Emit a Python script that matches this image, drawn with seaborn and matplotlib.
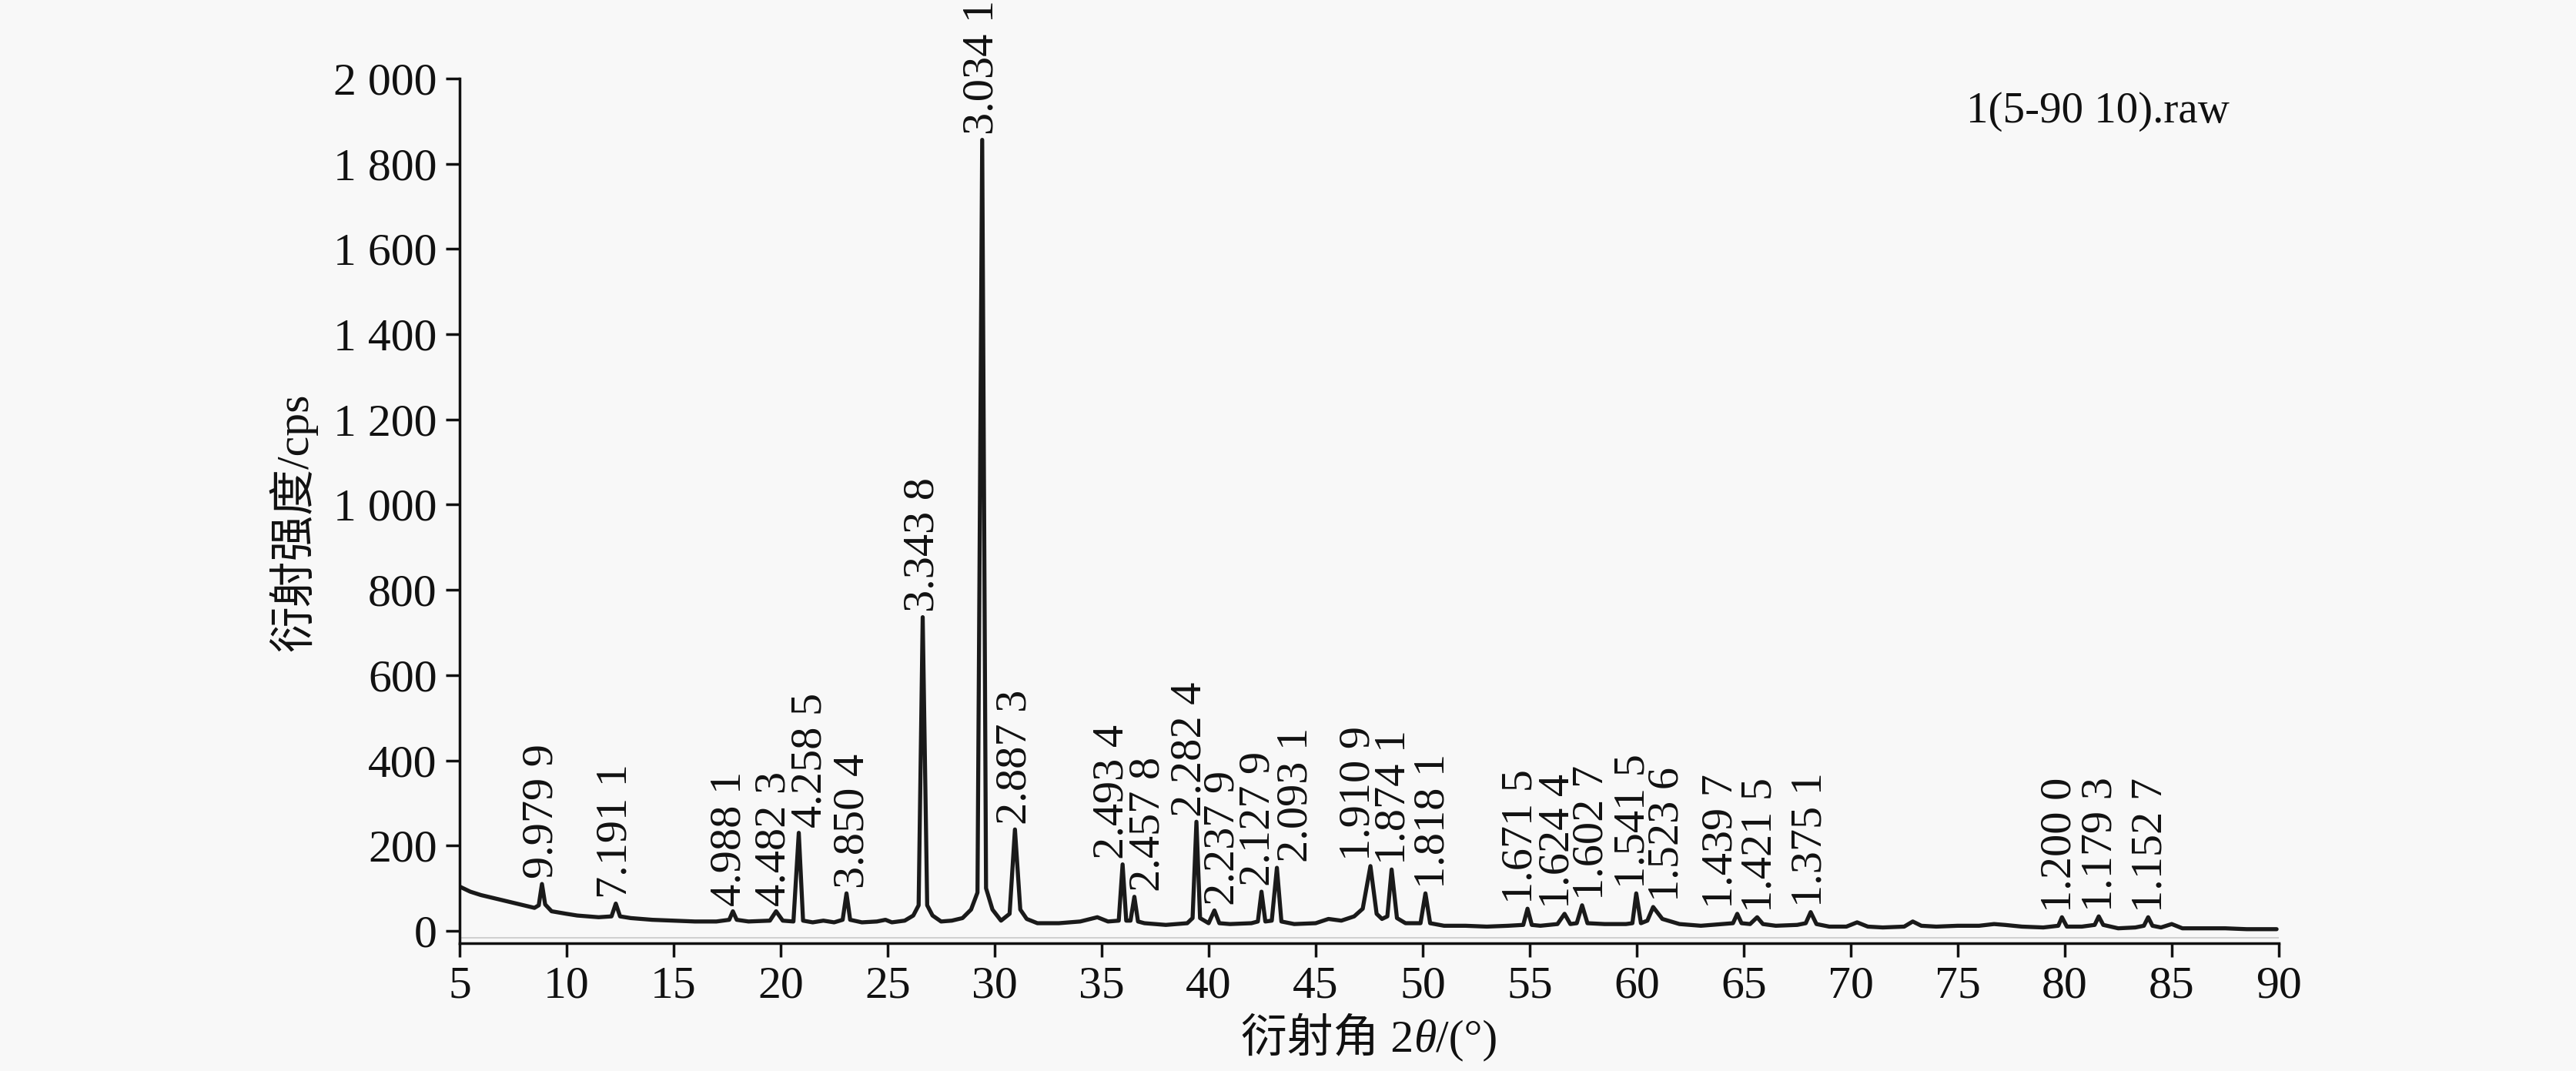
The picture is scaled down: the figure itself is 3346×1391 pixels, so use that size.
import matplotlib
matplotlib.use("Agg")
import matplotlib.pyplot as plt
import seaborn as sns
from matplotlib.offsetbox import TextArea, HPacker, AnchoredOffsetbox

# XRD pattern (2theta in degrees, intensity in cps)
two_theta = [5.0, 5.5, 6.0, 6.5, 7.0, 7.5, 8.0, 8.5, 8.7, 8.85, 9.0, 9.3, 10.0, 10.5, 11.0, 11.5,
             12.1, 12.3, 12.5, 13.0, 14.0, 15.0, 16.0, 17.0, 17.6, 17.77, 17.95, 18.5, 19.5, 19.79,
             20.1, 20.6, 20.85, 21.05, 21.5, 22.0, 22.5, 22.9, 23.08, 23.25, 23.8, 24.5, 24.9, 25.2,
             25.8, 26.2, 26.45, 26.64, 26.85, 27.1, 27.5, 28.0, 28.5, 28.9, 29.2, 29.42, 29.6, 29.9,
             30.3, 30.7, 30.95, 31.2, 31.5, 32.0, 33.0, 34.0, 34.8, 35.3, 35.8, 35.98, 36.15, 36.35,
             36.53, 36.7, 37.0, 38.0, 39.0, 39.25, 39.43, 39.6, 40.0, 40.27, 40.5, 41.0, 42.0, 42.3,
             42.47, 42.65, 42.95, 43.19, 43.4, 44.0, 45.0, 45.6, 46.2, 46.8, 47.2, 47.56, 47.85, 48.1,
             48.35, 48.55, 48.8, 49.2, 49.9, 50.13, 50.35, 51.0, 52.0, 53.0, 54.0, 54.7, 54.9, 55.1,
             55.5, 56.3, 56.63, 56.9, 57.2, 57.45, 57.7, 58.5, 59.5, 59.8, 59.98, 60.2, 60.5, 60.77,
             61.2, 62.0, 63.0, 64.0, 64.5, 64.7, 64.9, 65.3, 65.63, 65.9, 66.5, 67.5, 67.9, 68.13,
             68.4, 69.0, 69.8, 70.3, 70.8, 71.5, 72.5, 72.9, 73.3, 74.0, 75.0, 76.0, 76.7, 77.2,
             78.0, 79.0, 79.7, 79.87, 80.1, 80.8, 81.4, 81.59, 81.8, 82.5, 83.3, 83.7, 83.9, 84.1,
             84.5, 85.0, 85.5, 86.5, 87.5, 88.5, 89.9]
intensity = [104, 92, 84, 78, 72, 66, 60, 54, 60, 110, 62, 46, 40, 36, 34, 32,
             34, 64, 34, 30, 26, 24, 22, 22, 26, 46, 26, 22, 24, 46,
             24, 22, 230, 24, 20, 24, 20, 26, 88, 26, 20, 22, 26, 20,
             24, 36, 60, 736, 60, 36, 22, 24, 30, 50, 90, 1856, 100, 50,
             24, 40, 238, 50, 28, 18, 18, 22, 32, 22, 24, 156, 24, 24,
             80, 22, 18, 14, 18, 30, 256, 30, 18, 48, 18, 16, 18, 22,
             92, 22, 24, 148, 22, 16, 18, 28, 24, 34, 52, 152, 40, 28,
             34, 144, 30, 18, 18, 88, 18, 12, 12, 10, 12, 14, 52, 14,
             12, 16, 40, 16, 18, 60, 18, 16, 16, 18, 88, 18, 24, 56,
             28, 16, 12, 16, 18, 40, 18, 16, 32, 16, 12, 14, 18, 44,
             16, 10, 10, 20, 10, 8, 10, 22, 12, 10, 12, 12, 16, 14,
             10, 8, 12, 32, 10, 10, 14, 34, 14, 6, 8, 12, 32, 12,
             8, 16, 6, 6, 6, 4, 4]

# labelled peaks: position, height, d-spacing label
peak_pos = [8.85, 12.3, 17.77, 19.79, 20.85, 23.08, 26.64, 29.42, 30.95, 35.98, 36.53, 39.43,
            40.27, 42.47, 43.19, 47.56, 48.55, 50.13, 54.9, 56.63, 57.45, 59.98, 60.77, 64.7,
            65.63, 68.13, 79.87, 81.59, 83.9]
peak_height = [110, 64, 46, 46, 230, 88, 736, 1856, 238, 156, 80, 256,
               48, 92, 148, 152, 144, 88, 52, 40, 60, 88, 56, 40,
               32, 44, 32, 34, 32]
d_labels = ["9.979 9", "7.191 1", "4.988 1", "4.482 3", "4.258 5", "3.850 4", "3.343 8",
            "3.034 1", "2.887 3", "2.493 4", "2.457 8", "2.282 4", "2.237 9", "2.127 9",
            "2.093 1", "1.910 9", "1.874 1", "1.818 1", "1.671 5", "1.624 4", "1.602 7",
            "1.541 5", "1.523 6", "1.439 7", "1.421 5", "1.375 1", "1.200 0", "1.179 3",
            "1.152 7"]

x_ticks = list(range(5, 95, 5))
y_ticks = list(range(0, 2200, 200))
y_ticklabels = ["0", "200", "400", "600", "800", "1 000", "1 200", "1 400", "1 600", "1 800", "2 000"]

sns.set_style("ticks")
serif = ["Liberation Serif", "Noto Sans CJK SC"]
plt.rcParams["font.family"] = serif

bg = "#f8f8f8"
fig = plt.figure(figsize=(33.46, 13.91), dpi=100, facecolor=bg)
ax = fig.add_axes([0.1784, 0.1193, 0.7062, 0.8074])
ax.set_facecolor(bg)

sns.lineplot(x=two_theta, y=intensity, ax=ax, color="#1a1a1a", linewidth=3.8)
ax.axhline(-16, color="#c8c8c8", linewidth=1.2, zorder=1)

# small sideways shifts so the labels do not collide
nudge = [0, 0, -0.15, -0.1, 0.55, 0.28, 0, 0, 0, -0.5, 0.65, -0.3, 0.4, -0.15, 0.9, -0.55,
         0.1, 0.35, -0.3, -0.3, 0.45, -0.15, 0.65, -0.75, 0.15, 0, -0.1, 0.1, 0.1]
for x, h, lab, dx in zip(peak_pos, peak_height, d_labels, nudge):
    ax.text(x + dx, h + 12, lab, rotation=90, ha="center", va="bottom",
            fontsize=42, color="#111111")

ax.text(75.4, 1922, "1(5-90 10).raw", ha="left", va="center", fontsize=41, color="#111111")

ax.set_xlim(5, 90)
ax.set_ylim(-29, 2000)
ax.set_xticks(x_ticks)
ax.set_yticks(y_ticks)
ax.set_yticklabels(y_ticklabels)
ax.tick_params(axis="both", labelsize=43, length=13, width=2.5, color="#111111",
               labelcolor="#111111", pad=8)
for side in ["top", "right"]:
    ax.spines[side].set_visible(False)
for side in ["left", "bottom"]:
    ax.spines[side].set_linewidth(2.5)
    ax.spines[side].set_color("#111111")

ax.set_ylabel("衍射强度/cps", fontsize=43, color="#111111")
ax.yaxis.set_label_coords(-0.078, 0.487)

# x label with italic theta
tp = dict(fontsize=43, color="#111111", family=serif)
parts = [TextArea("衍射角 2", textprops=tp),
         TextArea("θ", textprops=dict(tp, style="italic")),
         TextArea("/(°)", textprops=tp)]
box = HPacker(children=parts, align="baseline", pad=0, sep=0)
anch = AnchoredOffsetbox(loc="center", child=box, frameon=False,
                         bbox_to_anchor=(0.5, -0.112), bbox_transform=ax.transAxes, pad=0, borderpad=0)
ax.add_artist(anch)

fig.savefig("out.png", dpi=100, facecolor=bg)
